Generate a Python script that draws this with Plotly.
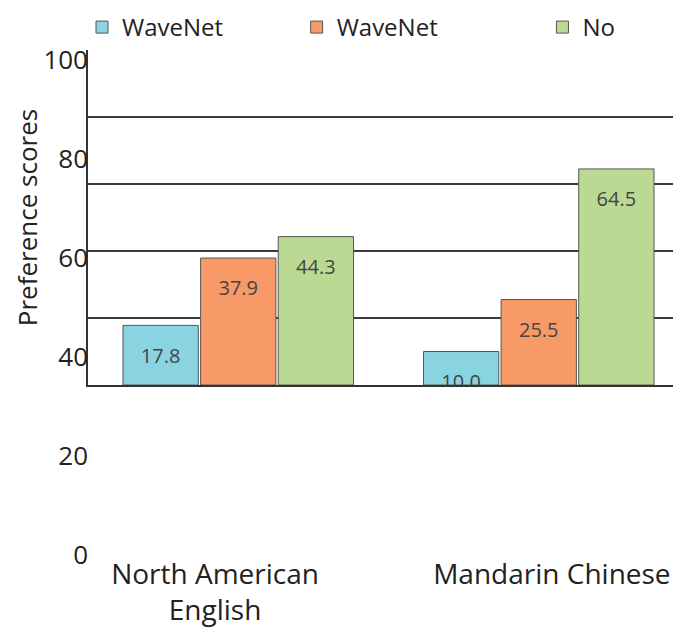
import plotly.graph_objects as go

categories = ["North American English", "Mandarin Chinese"]
category_labels = ["North American<br>English", "Mandarin Chinese"]
series_names = ["WaveNet", "WaveNet", "No"]
legend_pad = [11, 16, 0]  # non-breaking spaces after legend names (legend spacing)
series_values = [
    [17.8, 10.0],
    [37.9, 25.5],
    [44.3, 64.5],
]
series_colors = ["#8AD4E2", "#F79A68", "#BADA94"]
y_ticks = [0, 20, 40, 60, 80, 100]

FONT = "Humor Sans, xkcd, Comic Sans MS, Open Sans, sans-serif"

fig = go.Figure()
for name, pad, vals, col in zip(series_names, legend_pad, series_values, series_colors):
    fig.add_trace(go.Bar(
        x=categories, y=vals, name=name + "\u00a0" * pad,
        marker=dict(color=col, line=dict(color="#555555", width=1)),
        hoverinfo="skip",
    ))

# value labels, grouped like the bars
for vals in series_values:
    fig.add_trace(go.Scatter(
        x=categories, y=vals, mode="markers+text",
        text=[f"{v:.1f}" for v in vals], textposition="bottom center",
        textfont=dict(family=FONT, size=20, color="#444444"),
        marker=dict(size=34, opacity=0), showlegend=False, hoverinfo="skip",
    ))

# helper subplot carrying the tick labels and category labels
fig.add_trace(go.Scatter(
    x=categories, y=[0, 0], xaxis="x2", yaxis="y2", mode="markers",
    marker=dict(opacity=0), showlegend=False, hoverinfo="skip",
))

fig.update_layout(
    width=681, height=642,
    margin=dict(l=80, r=0, t=42, b=95, autoexpand=False),
    paper_bgcolor="white", plot_bgcolor="rgba(0,0,0,0)",
    font=dict(family=FONT, color="#222222"),
    barmode="group", bargap=0.225, bargroupgap=0.03,
    scattermode="group", scattergap=0.225,
    legend=dict(orientation="h", x=-0.01, xanchor="left",
                y=1.0, yanchor="bottom",
                font=dict(size=24, color="#222222"),
                bgcolor="rgba(0,0,0,0)"),
    xaxis=dict(domain=[0, 1], showticklabels=False, showgrid=False, automargin=False,
               showline=True, linecolor="#333333", linewidth=1.5, ticks=""),
    yaxis=dict(domain=[0.3366, 1], range=[0, 100], dtick=20, showticklabels=False,
               showgrid=True, gridcolor="#3a3a3a", gridwidth=1.5, zeroline=False,
               showline=True, linecolor="#333333", linewidth=1.5, ticks="",
               automargin=False,
               title=dict(text="Preference scores", standoff=41,
                          font=dict(size=26, color="#222222"))),
    xaxis2=dict(domain=[0.0433, 0.940], anchor="y2", type="category",
                categoryarray=categories, range=[-0.3, 1.3], automargin=False,
                tickvals=categories, ticktext=category_labels,
                showgrid=False, showline=False, zeroline=False, ticks="",
                tickfont=dict(size=28, color="#222222")),
    yaxis2=dict(domain=[0, 0.98], anchor="free", position=0.0, range=[0, 100],
                tickvals=y_ticks, showgrid=False, showline=False, zeroline=False,
                ticks="", automargin=False, tickfont=dict(size=26, color="#222222")),
)

fig.write_html("out.html")
